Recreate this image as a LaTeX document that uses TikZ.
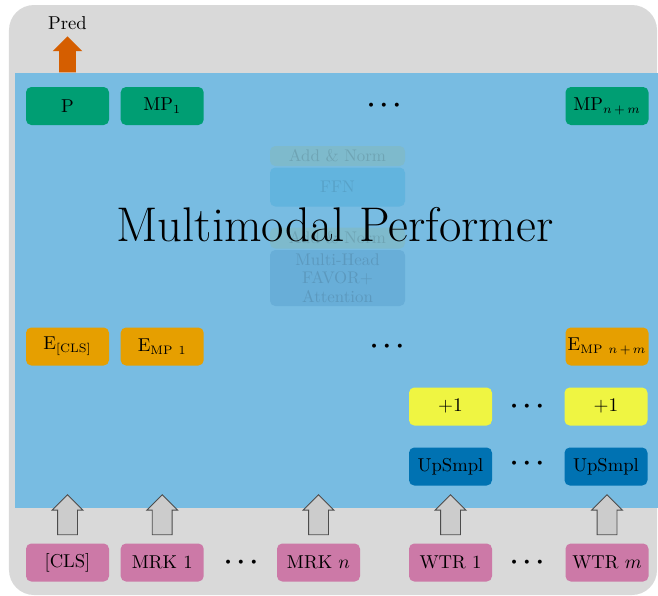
\documentclass[tikz,border=0pt]{standalone}
\usetikzlibrary{positioning,shapes.arrows}

\definecolor{framegray}{RGB}{217,217,217}
\definecolor{bodyblue}{RGB}{120,188,226}
\definecolor{outgreen}{RGB}{0,158,115}
\definecolor{embor}{RGB}{230,159,0}
\definecolor{plusyel}{RGB}{239,245,66}
\definecolor{upblue}{RGB}{0,114,178}
\definecolor{inpink}{RGB}{204,121,167}
\definecolor{predor}{RGB}{213,94,0}
\definecolor{normghost}{RGB}{126,186,204}
\definecolor{ffnghost}{RGB}{98,180,222}
\definecolor{attghost}{RGB}{104,174,216}

\begin{document}
\begin{tikzpicture}[
    font=\fontsize{10.6}{12.7}\selectfont,
    tok/.style={rectangle, rounded corners=3pt, minimum width=1.66cm, minimum height=0.76cm, inner sep=1pt},
    ghost/.style={rectangle, rounded corners=3pt, minimum width=2.7cm, inner sep=1pt, align=center, font=\fontsize{9.6}{10.5}\selectfont},
    dots/.style={font=\Large\boldmath},
    inarrow/.style={single arrow, shape border rotate=90, draw=black!70, fill=black!20, line width=0.5pt,
      minimum height=0.8cm, inner sep=0.19cm, single arrow head extend=0.11cm},
    predarrow/.style={single arrow, shape border rotate=90, fill=predor,
      minimum height=0.72cm, inner sep=0.16cm, single arrow head extend=0.13cm}
  ]
  \useasboundingbox (0,0) rectangle (13.16,-11.92);

  % frame and encoder body
  \fill[framegray, rounded corners=0.5cm] (0.18,-0.1) rectangle (13.14,-11.9);
  \fill[bodyblue] (0.3,-1.46) rectangle (13.16,-10.16);

  % faded encoder layer behind the title
  \node[ghost, fill=normghost, text=normghost!88!black, minimum height=0.4cm] (norm2) at (6.75,-3.12) {Add \& Norm};
  \node[ghost, fill=ffnghost, text=ffnghost!90!black, minimum height=0.78cm] (ffn) at (6.75,-3.74) {FFN};
  \node[ghost, fill=normghost, text=normghost!88!black, minimum height=0.42cm] (norm1) at (6.75,-4.76) {Add \& Norm};
  \node[ghost, fill=attghost, text=attghost!88!black, minimum height=1.12cm] (att) at (6.75,-5.56) {Multi-Head\\FAVOR+\\Attention};

  \node[font=\fontsize{27.7}{33}\selectfont] (title) at (6.7,-4.5) {Multimodal Performer};

  % outputs
  \node[tok, fill=outgreen] (p) at (1.35,-2.12) {P};
  \node[tok, fill=outgreen, right=0.22cm of p] (mp1) {MP$_1$};
  \node[dots] (mpdots) at (7.68,-2.12) {$\cdots$};
  \node[tok, fill=outgreen] (mpnm) at (12.14,-2.12) {MP$_{n\,+\,m}$};

  \node[predarrow, above=0.28cm of p] (predarr) {};
  \node[above=0pt of predarr] (pred) {Pred};

  % embeddings
  \node[tok, fill=embor] (ecls) at (1.35,-6.93) {E$_{\mathrm{[CLS]}}$};
  \node[tok, fill=embor, right=0.22cm of ecls] (emp1) {E$_{\mathrm{MP\ 1}}$};
  \node[dots] (edots) at (7.74,-6.93) {$\cdots$};
  \node[tok, fill=embor, inner sep=0pt] (empnm) at (12.14,-6.93) {E$_{\mathrm{MP}\ n\,+\,m}$};

  % weather branch
  \node[tok, fill=plusyel] (plus1) at (9.01,-8.13) {$+1$};
  \node[dots] (plusdots) at (10.54,-8.13) {$\cdots$};
  \node[tok, fill=plusyel] (plusm) at (12.12,-8.13) {$+1$};

  \node[tok, fill=upblue] (up1) at (9.01,-9.33) {UpSmpl};
  \node[dots] (updots) at (10.54,-9.28) {$\cdots$};
  \node[tok, fill=upblue] (upm) at (12.12,-9.33) {UpSmpl};

  % inputs
  \node[tok, fill=inpink] (cls) at (1.35,-11.25) {[CLS]};
  \node[tok, fill=inpink, right=0.22cm of cls] (mrk1) {MRK 1};
  \node[dots] (mrkdots) at (4.82,-11.25) {$\cdots$};
  \node[tok, fill=inpink] (mrkn) at (6.37,-11.25) {MRK $n$};
  \node[tok, fill=inpink] (wtr1) at (9.01,-11.25) {WTR 1};
  \node[dots] (wtrdots) at (10.54,-11.25) {$\cdots$};
  \node[tok, fill=inpink] (wtrm) at (12.14,-11.25) {WTR $m$};

  \node[inarrow, above=0.16cm of cls] (acls) {};
  \node[inarrow, above=0.16cm of mrk1] (amrk1) {};
  \node[inarrow, above=0.16cm of mrkn] (amrkn) {};
  \node[inarrow, above=0.16cm of wtr1] (awtr1) {};
  \node[inarrow, above=0.16cm of wtrm] (awtrm) {};
\end{tikzpicture}
\end{document}
